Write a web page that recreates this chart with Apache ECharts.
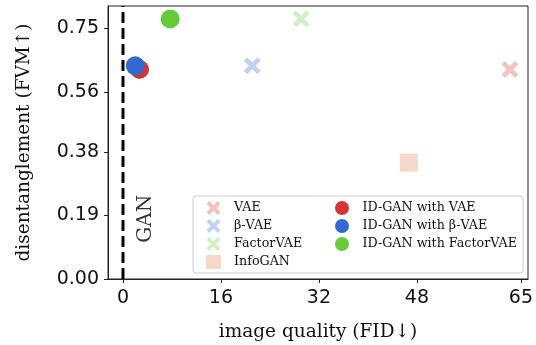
<!DOCTYPE html>
<html>
<head>
<meta charset="utf-8">
<script src="https://cdn.jsdelivr.net/npm/echarts@6/dist/echarts.min.js"></script>
<style>
  html, body { margin: 0; padding: 0; background: #fff; }
  #main { width: 536px; height: 345px; }
</style>
</head>
<body>
<div id="main"></div>
<script>
// baselines (faded markers)
var baseNames = ['VAE', 'β-VAE', 'FactorVAE', 'InfoGAN'];
var baseFID = [63.2, 21.1, 29.1, 46.7];
var baseFVM = [0.627, 0.638, 0.778, 0.348];
// ID-GAN variants (solid circles)
var idganNames = ['ID-GAN with VAE', 'ID-GAN with β-VAE', 'ID-GAN with FactorVAE'];
var idganFID = [2.7, 2.0, 7.7];
var idganFVM = [0.627, 0.638, 0.778];
// tick labels
var xTicks = [0, 16, 32, 48, 65];
var yTicks = [0, 0.19, 0.38, 0.56, 0.75];

var RED = '#d33434', BLUE = '#3369d1', GREEN = '#63cc38', ORANGE = '#e07a4c';
var CROSS = 'path://M2,0 L5,3 L8,0 L10,2 L7,5 L10,8 L8,10 L5,7 L2,10 L0,8 L3,5 L0,2 Z';
var serif = 'DejaVu Serif';

var myChart = echarts.init(document.getElementById('main'));

var baseStyle = [
  { color: RED, symbol: CROSS, size: 17 },
  { color: BLUE, symbol: CROSS, size: 17 },
  { color: GREEN, symbol: CROSS, size: 17 },
  { color: ORANGE, symbol: 'rect', size: 18 }
];
var idganColors = [RED, BLUE, GREEN];

var series = [];
// GAN dashed line at FID = 0
series.push({
  type: 'line',
  name: 'GANline',
  data: [[0, 0], [0, 0.8166]],
  symbol: 'none',
  silent: true,
  lineStyle: { color: '#000', width: 3, type: [11, 5] },
  z: 1
});
series.push({
  type: 'scatter',
  name: 'GANlabel',
  data: [[3.75, 0.18]],
  symbolSize: 0,
  silent: true,
  label: {
    show: true, position: 'inside', formatter: 'GAN', rotate: 90,
    fontFamily: serif, fontSize: 20, color: '#000'
  }
});
for (var i = 0; i < baseNames.length; i++) {
  series.push({
    type: 'scatter',
    name: baseNames[i],
    data: [[baseFID[i], baseFVM[i]]],
    symbol: baseStyle[i].symbol,
    symbolSize: baseStyle[i].size,
    itemStyle: { color: baseStyle[i].color, opacity: 0.3 }
  });
}
for (var j = 0; j < idganNames.length; j++) {
  series.push({
    type: 'scatter',
    name: idganNames[j],
    data: [[idganFID[j], idganFVM[j]]],
    symbol: 'circle',
    symbolSize: 19,
    itemStyle: { color: idganColors[j], opacity: 1 },
    z: 3
  });
}

var option = {
  animation: false,
  grid: {
    left: 108, right: 8, top: 6, bottom: 66,
    outerBoundsMode: 'none',
    show: true, borderColor: '#222', borderWidth: 1
  },
  xAxis: {
    type: 'value',
    min: -2.45, max: 66.15,
    name: 'image quality (FID↓)',
    nameLocation: 'middle',
    nameGap: 44,
    nameTextStyle: { fontFamily: serif, fontSize: 18.5, color: '#111' },
    axisLine: { show: true, onZero: false, lineStyle: { color: '#222' } },
    axisTick: { show: true, length: 4, customValues: xTicks, lineStyle: { color: '#222' } },
    axisLabel: {
      customValues: xTicks, margin: 10,
      fontFamily: 'DejaVu Sans', fontSize: 19, color: '#111',
      formatter: function (v) { return String(Math.round(v)); }
    },
    splitLine: { show: false }
  },
  yAxis: {
    type: 'value',
    min: 0, max: 0.8166,
    name: 'disentanglement (FVM↑)',
    nameLocation: 'middle',
    nameGap: 74,
    nameTextStyle: { fontFamily: serif, fontSize: 18.5, color: '#111' },
    axisLine: { show: true, onZero: false, lineStyle: { color: '#222' } },
    axisTick: { show: true, length: 4, customValues: yTicks, lineStyle: { color: '#222' } },
    axisLabel: {
      customValues: yTicks, margin: 9,
      fontFamily: 'DejaVu Sans', fontSize: 19, color: '#111',
      formatter: function (v) { return v.toFixed(2); }
    },
    splitLine: { show: false }
  },
  legend: [
    {
      data: baseNames,
      orient: 'vertical',
      left: 201, top: 196,
      itemWidth: 15, itemHeight: 14, itemGap: 4,
      textStyle: { fontFamily: serif, fontSize: 12.7, color: '#111', padding: [0, 0, 0, 8] },
      z: 5
    },
    {
      data: idganNames,
      orient: 'vertical',
      left: 330, top: 196,
      itemWidth: 15, itemHeight: 14, itemGap: 4,
      textStyle: { fontFamily: serif, fontSize: 12.7, color: '#111', padding: [0, 0, 0, 8] },
      z: 5
    }
  ],
  graphic: [{
    type: 'rect',
    z: 4,
    shape: { x: 193, y: 196, width: 330, height: 77, r: 3 },
    style: { fill: 'rgba(255,255,255,0.85)', stroke: '#cccccc', lineWidth: 1 }
  }],
  series: series
};
myChart.setOption(option);
</script>
</body>
</html>
